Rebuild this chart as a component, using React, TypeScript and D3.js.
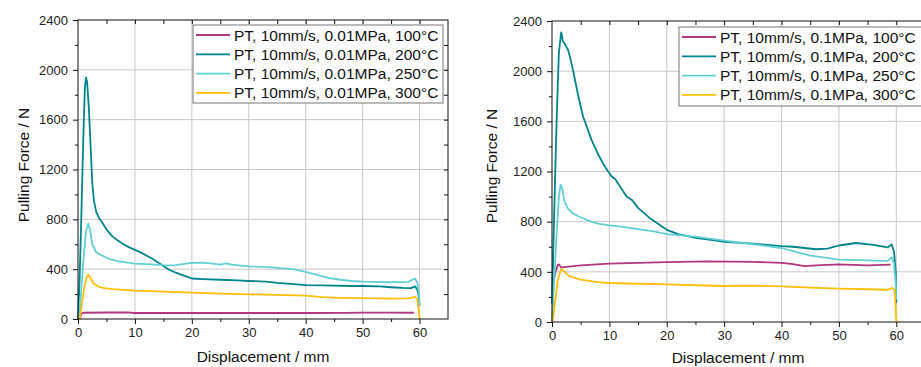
import { useEffect, useRef } from 'react';
import * as d3 from 'd3';

const W = 921;
const H = 367;
const FONT = '"Liberation Sans", Arial, sans-serif';

const temps = ['100°C', '200°C', '250°C', '300°C'];
const colors = ['#b0367f', '#00848a', '#62cfd2', '#ffbe0a'];

const xTicks = [0, 10, 20, 30, 40, 50, 60];
const yTicks = [0, 400, 800, 1200, 1600, 2000, 2400];

// 0.01 MPa series  [displacement mm, force N]
const low100 = [[0.3, 0], [0.6, 46], [1, 50], [5, 52], [9, 52], [10, 48], [20, 48], [30, 48], [40, 48], [47, 49], [50, 51], [55, 51], [59, 50]];
const low200 = [[0, 0], [0.3, 350], [0.6, 850], [0.9, 1400], [1.2, 1850], [1.4, 1940], [1.6, 1900], [1.9, 1700], [2.2, 1400], [2.5, 1100], [2.8, 950], [3.2, 860], [3.7, 810], [4.1, 785], [5, 720], [6, 665], [7, 630], [8, 600], [9, 575], [10, 555], [11, 535], [12, 510], [13, 485], [14, 455], [15, 425], [16, 395], [17, 375], [18, 358], [19, 342], [20, 325], [22, 320], [25, 315], [28, 310], [30, 305], [33, 300], [35, 290], [38, 280], [40, 272], [43, 270], [45, 268], [48, 265], [50, 265], [53, 262], [55, 255], [57, 250], [58.5, 248], [59.2, 262], [59.6, 235], [59.8, 200], [60, 110]];
const low250 = [[0.2, 0], [0.6, 250], [1, 500], [1.4, 700], [1.8, 765], [2.1, 720], [2.5, 600], [3.2, 535], [4, 515], [5.6, 480], [7, 465], [9, 450], [10, 445], [12, 440], [15, 432], [17, 430], [18, 438], [20, 450], [22, 452], [24, 443], [25, 437], [26, 446], [27, 436], [30, 422], [33, 418], [35, 410], [38, 398], [40, 378], [42, 355], [44, 330], [46, 315], [48, 305], [50, 300], [55, 295], [58, 298], [59.2, 325], [59.6, 295], [59.9, 200], [60, 110]];
const low300 = [[0.3, 0], [0.7, 130], [1.1, 250], [1.5, 330], [1.8, 355], [2.2, 330], [2.7, 285], [3.5, 262], [4.4, 250], [6, 240], [8, 233], [10, 227], [15, 220], [20, 212], [25, 204], [30, 198], [35, 193], [40, 187], [43, 175], [46, 170], [50, 167], [55, 164], [58, 166], [59.2, 178], [59.6, 160], [59.9, 60], [60, 0]];

// 0.1 MPa series
const high100 = [[0, 250], [0.5, 380], [1, 455], [1.2, 460], [1.6, 435], [2.5, 440], [5, 452], [10, 465], [15, 472], [20, 478], [27, 484], [35, 480], [40, 471], [42, 462], [44, 445], [46, 452], [50, 460], [55, 452], [59, 457]];
const high200 = [[0, 150], [0.4, 900], [0.8, 1600], [1.2, 2150], [1.6, 2310], [1.9, 2240], [2.3, 2210], [2.8, 2170], [3.2, 2100], [3.7, 2000], [4.5, 1820], [5.4, 1640], [6.9, 1450], [8, 1340], [9.2, 1240], [10.4, 1160], [11, 1140], [12, 1070], [13, 1000], [14, 970], [15, 910], [17, 830], [20, 735], [22, 700], [25, 670], [28, 652], [30, 640], [35, 625], [40, 605], [42, 600], [44, 590], [46, 580], [48, 585], [50, 610], [53, 630], [56, 615], [58.5, 595], [59.2, 618], [59.6, 560], [59.9, 400], [60, 150]];
const high250 = [[0, 0], [0.4, 350], [0.8, 700], [1.2, 1000], [1.5, 1095], [1.8, 1060], [2.2, 960], [2.7, 910], [3.5, 870], [4.5, 845], [6, 815], [8, 785], [10, 770], [12, 760], [15, 740], [18, 720], [20, 700], [25, 680], [30, 648], [35, 620], [40, 590], [42, 565], [45, 530], [48, 512], [50, 498], [55, 492], [58.5, 487], [59.2, 515], [59.6, 470], [59.9, 300], [60, 180]];
const high300 = [[0.1, 0], [0.5, 150], [1, 330], [1.6, 425], [2, 410], [3, 365], [5, 338], [8, 318], [10, 311], [15, 305], [20, 300], [25, 293], [30, 287], [35, 290], [40, 284], [45, 274], [50, 266], [55, 261], [58.5, 257], [59.3, 272], [59.7, 255], [59.9, 100], [60, 0]];

const panels = [
  { pressure: '0.01MPa', series: [low100, low200, low250, low300], x0: 78, x1: 448, y0: 319, y1: 20, legend: { x: 193, y: 25, w: 250, h: 78 }, xTitle: [263, 362], yTitle: [24, 165] },
  { pressure: '0.1MPa', series: [high100, high200, high250, high300], x0: 552, x1: 925, y0: 322, y1: 21, legend: { x: 679, y: 27, w: 262, h: 79 }, xTitle: [738, 363], yTitle: [492, 166] },
];

function App() {
  const svgRef = useRef(null);

  useEffect(() => {
    const svg = d3.select(svgRef.current);
    svg.selectAll('*').remove();

    panels.forEach(p => {
      const x = d3.scaleLinear().domain([0, 65]).range([p.x0, p.x1]);
      const y = d3.scaleLinear().domain([0, 2400]).range([p.y0, p.y1]);
      const g = svg.append('g');

      // grid
      g.selectAll('.vg').data(xTicks.filter(d => d > 0)).join('line')
        .attr('x1', d => x(d)).attr('x2', d => x(d))
        .attr('y1', p.y0).attr('y2', p.y1)
        .attr('stroke', '#c8c8c8').attr('stroke-width', 1);
      g.selectAll('.hg').data(yTicks.filter(d => d > 0 && d < 2400)).join('line')
        .attr('x1', p.x0).attr('x2', p.x1)
        .attr('y1', d => y(d)).attr('y2', d => y(d))
        .attr('stroke', '#c8c8c8').attr('stroke-width', 1);

      // curves
      const line = d3.line().x(d => x(d[0])).y(d => y(d[1]));
      p.series.forEach((s, i) => {
        g.append('path').datum(s)
          .attr('fill', 'none')
          .attr('stroke', colors[i])
          .attr('stroke-width', 1.8)
          .attr('stroke-linejoin', 'round')
          .attr('d', line);
      });

      // frame
      g.append('rect')
        .attr('x', p.x0).attr('y', p.y1)
        .attr('width', p.x1 - p.x0).attr('height', p.y0 - p.y1)
        .attr('fill', 'none').attr('stroke', '#111').attr('stroke-width', 1);

      const minorX = d3.range(5, 65, 10);
      const minorY = d3.range(200, 2400, 400);

      const styleAxis = (a: any) => {
        a.select('.domain').remove();
        a.selectAll('line').attr('stroke', '#111');
        a.selectAll('text').attr('fill', '#222').style('font-family', FONT).style('font-size', '13px');
      };

      // bottom / left outward ticks
      g.append('g').attr('transform', `translate(0,${p.y0})`)
        .call(d3.axisBottom(x).tickValues(xTicks).tickSize(5).tickPadding(4).tickFormat(d3.format('d')))
        .call(styleAxis);
      g.append('g').attr('transform', `translate(0,${p.y0})`)
        .call(d3.axisBottom(x).tickValues(minorX).tickSize(3).tickFormat(() => ''))
        .call(styleAxis);
      g.append('g').attr('transform', `translate(${p.x0},0)`)
        .call(d3.axisLeft(y).tickValues(yTicks).tickSize(5).tickPadding(5).tickFormat(d3.format('d')))
        .call(styleAxis);
      g.append('g').attr('transform', `translate(${p.x0},0)`)
        .call(d3.axisLeft(y).tickValues(minorY).tickSize(3).tickFormat(() => ''))
        .call(styleAxis);

      // top / right inward ticks
      g.append('g').attr('transform', `translate(0,${p.y1})`)
        .call(d3.axisTop(x).tickValues(d3.range(5, 65, 5)).tickSize(-4).tickFormat(() => ''))
        .call(styleAxis);
      g.append('g').attr('transform', `translate(${p.x1},0)`)
        .call(d3.axisRight(y).tickValues(d3.range(200, 2400, 200)).tickSize(-4).tickFormat(() => ''))
        .call(styleAxis);

      // axis titles
      g.append('text')
        .attr('x', p.xTitle[0]).attr('y', p.xTitle[1])
        .attr('text-anchor', 'middle')
        .style('font-family', FONT).style('font-size', '15.5px').attr('fill', '#111')
        .text('Displacement / mm');
      g.append('text')
        .attr('transform', `translate(${p.yTitle[0]},${p.yTitle[1]}) rotate(-90)`)
        .attr('text-anchor', 'middle').attr('dy', '0.35em')
        .style('font-family', FONT).style('font-size', '15.5px').attr('fill', '#111')
        .text('Pulling Force / N');

      // legend
      const lg = g.append('g').attr('transform', `translate(${p.legend.x},${p.legend.y})`);
      lg.append('rect')
        .attr('width', p.legend.w).attr('height', p.legend.h)
        .attr('fill', '#fff').attr('stroke', '#777').attr('stroke-width', 1);
      temps.forEach((t, i) => {
        const ry = 10 + i * 19.3;
        lg.append('line')
          .attr('x1', 3).attr('x2', 37).attr('y1', ry).attr('y2', ry)
          .attr('stroke', colors[i]).attr('stroke-width', 1.8);
        lg.append('text')
          .attr('x', 41).attr('y', ry + 5.5)
          .style('font-family', FONT).style('font-size', '15.5px').attr('fill', '#111')
          .text(`PT, 10mm/s, ${p.pressure}, ${t}`);
      });
    });
  }, []);

  return (
    <svg ref={svgRef} width={W} height={H} style={{ position: 'absolute', left: 0, top: 0, background: '#fff' }}></svg>
  );
}

export default App;
